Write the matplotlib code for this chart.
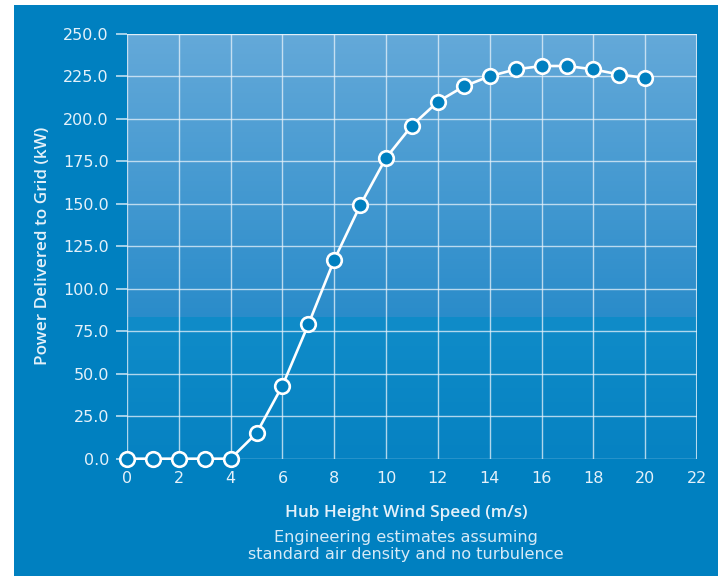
import numpy as np
import matplotlib
matplotlib.use('Agg')
from matplotlib import pyplot as plt
from matplotlib.patches import Rectangle
from matplotlib.colors import LinearSegmentedColormap

# power curve
wind_speed = [0, 1, 2, 3, 4, 5, 6, 7, 8, 9, 10, 11, 12, 13, 14, 15, 16, 17, 18, 19, 20]
power_kw = [0, 0, 0, 0, 0, 15, 43, 79, 117, 149, 177, 196, 210, 219, 225, 229, 231, 231, 229, 226, 224]

x_ticks = list(range(0, 23, 2))
y_ticks = [0, 25, 50, 75, 100, 125, 150, 175, 200, 225, 250]

BG = '#0080c0'
TXT = '#e4f1fa'
LABEL_FONT = ['Open Sans', 'DejaVu Sans']

plt.rcParams['font.family'] = ['DejaVu Sans']

fig = plt.figure(figsize=(7.21, 5.76), dpi=100)
fig.patch.set_facecolor('white')
fig.patches.append(Rectangle((14/721, 0), (718-14)/721, (576-5)/576,
                             transform=fig.transFigure, facecolor=BG,
                             edgecolor='none', zorder=-10))

ax = fig.add_axes([127/721, 1-458.7/576, (697-127)/721, (458.7-33.7)/576])
ax.set_facecolor(BG)

# background gradient, upper part lighter with a step near 83 kW
top_cmap = LinearSegmentedColormap.from_list('top', ['#2a8cca', '#64a9d9'])
low_cmap = LinearSegmentedColormap.from_list('low', ['#0682c2', '#108cc9'])
grad = np.linspace(0, 1, 256).reshape(-1, 1)
ax.imshow(grad, cmap=top_cmap, origin='lower', extent=[0, 22, 83, 250],
          aspect='auto', zorder=0)
ax.imshow(grad, cmap=low_cmap, origin='lower', extent=[0, 22, 0, 83],
          aspect='auto', zorder=0)
ax.set_xlim(0, 22)
ax.set_ylim(0, 250)

for s in ax.spines.values():
    s.set_visible(False)

ax.set_xticks(x_ticks)
ax.set_yticks(y_ticks)
ax.set_yticklabels(['%.1f' % v for v in y_ticks])
ax.grid(True, color='#e8f3fb', linewidth=1.0, alpha=0.75, zorder=1)
ax.axvline(22, color='#e8f3fb', linewidth=1.5, alpha=0.75, zorder=1)
ax.axhline(250, color='#e8f3fb', linewidth=1.5, alpha=0.75, zorder=1)
ax.tick_params(axis='y', length=8, width=1.1, color='#cfe6f5', pad=5,
               labelsize=11.5, labelcolor=TXT)
ax.tick_params(axis='x', length=0, pad=9, labelsize=11.5, labelcolor=TXT)

ax.plot(wind_speed, power_kw, '-', color='white', linewidth=1.9,
        marker='o', markersize=10.5, markerfacecolor=BG,
        markeredgecolor='white', markeredgewidth=1.9,
        clip_on=False, zorder=3)

ax.set_ylabel('Power Delivered to Grid (kW)', color=TXT, fontsize=12.3,
              family=LABEL_FONT, fontweight='semibold', labelpad=9)
fig.text(406/721, 1-513/576, 'Hub Height Wind Speed (m/s)', color=TXT,
         fontsize=12.3, family=LABEL_FONT, fontweight='semibold',
         ha='center', va='center')
fig.text(406/721, 1-546/576,
         'Engineering estimates assuming\nstandard air density and no turbulence',
         color='#d6eaf7', fontsize=11.6, ha='center', va='center',
         linespacing=1.15)

plt.savefig('out.png', dpi=100, facecolor=fig.get_facecolor())
plt.close()
